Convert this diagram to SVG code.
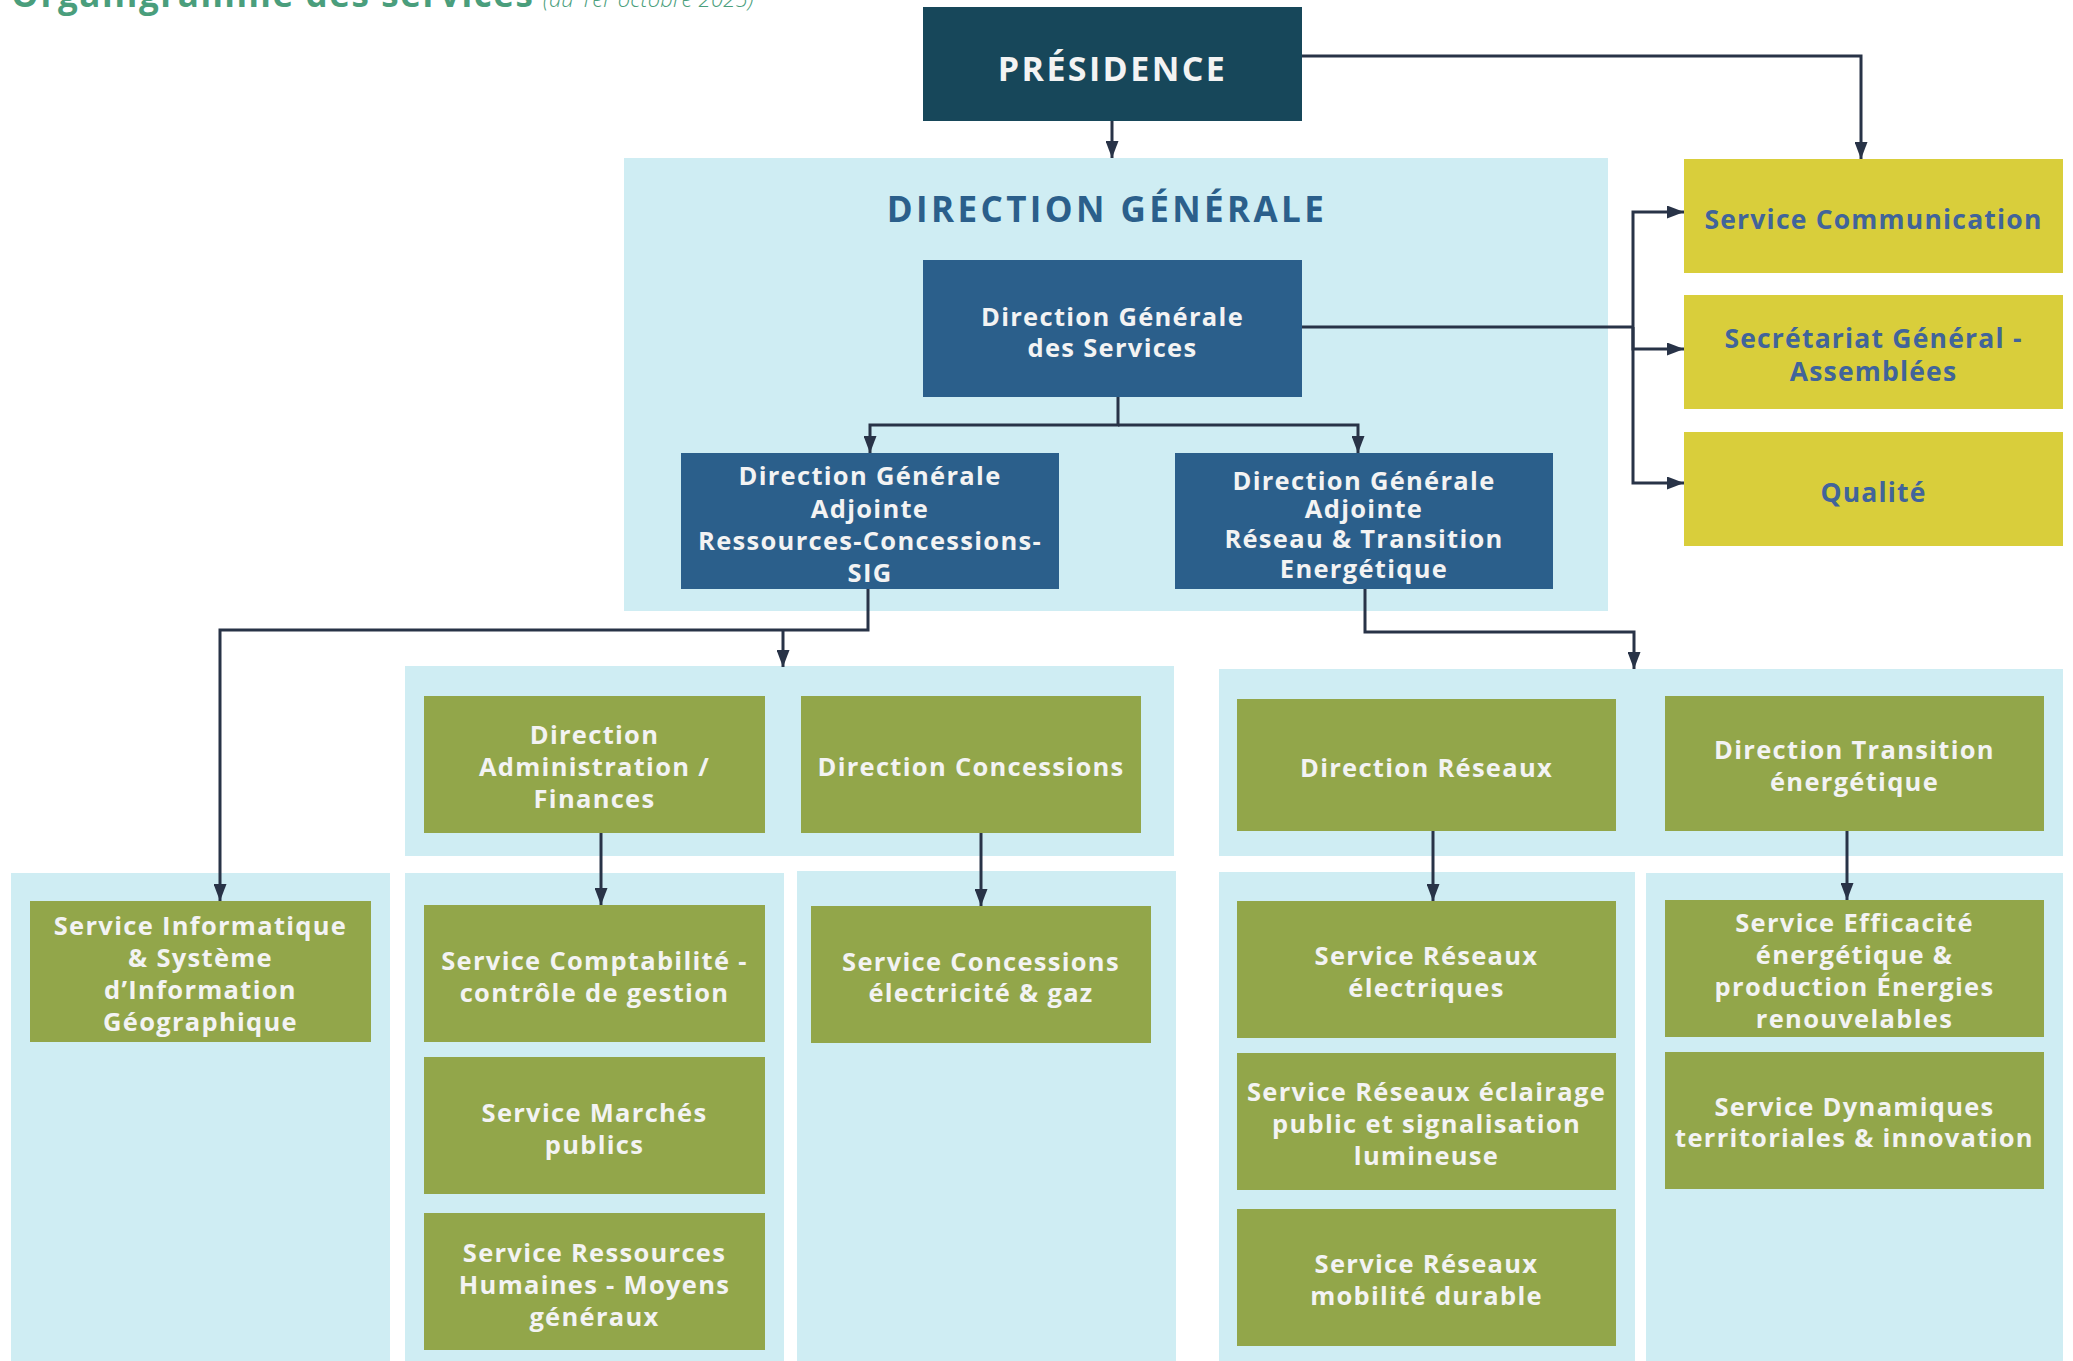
<svg xmlns="http://www.w3.org/2000/svg" width="2073" height="1361" viewBox="0 0 2073 1361">
<defs>
<style>
.cont{fill:#cfedf3}
.green{fill:#92a64a}
.blue{fill:#2b5f8b}
.dark{fill:#17475a}
.yellow{fill:#d9ce3b}
.t{font-family:"Open Sans","Liberation Sans",sans-serif;font-weight:700;text-anchor:middle;letter-spacing:1.3px}
.tw{fill:#f3f3f3;font-size:25.5px}
.ty{fill:#41649a;font-size:26.5px;letter-spacing:1.2px}
.conn{fill:none;stroke:#283347;stroke-width:3}
.arr{marker-end:url(#ah)}
</style>
<marker id="ah" markerUnits="userSpaceOnUse" markerWidth="18" markerHeight="13" refX="17" refY="6.5" orient="auto">
<path d="M0,0 L17,6.5 L0,13 z" fill="#283347"/>
</marker>
</defs>
<rect width="2073" height="1361" fill="#ffffff"/>

<g id="title">
<text x="11" y="7" font-family="'Open Sans','Liberation Sans',sans-serif" font-weight="700" font-size="35" letter-spacing="1.6" fill="#4a9e7c">Organigramme des services</text>
<text x="543" y="7" font-family="'Open Sans','Liberation Sans',sans-serif" font-weight="300" font-style="italic" font-size="22" letter-spacing="0.2" fill="#4a9e7c">(au 1er octobre 2025)</text>
</g>

<g id="containers">
<rect id="c-dg" class="cont" x="624" y="158" width="984" height="453"/>
<rect id="c-rcs" class="cont" x="405" y="666" width="769" height="190"/>
<rect id="c-rte" class="cont" x="1219" y="669" width="844" height="187"/>
<rect id="c-sig" class="cont" x="11" y="873" width="379" height="488"/>
<rect id="c-adm" class="cont" x="405" y="873" width="379" height="488"/>
<rect id="c-con" class="cont" x="797" y="871" width="379" height="490"/>
<rect id="c-res" class="cont" x="1219" y="872" width="416" height="489"/>
<rect id="c-tra" class="cont" x="1646" y="873" width="417" height="488"/>
<text class="t" x="1107" y="222" font-size="35" fill="#2b5f8b" style="letter-spacing:3.4px">DIRECTION GÉNÉRALE</text>
</g>

<g id="connectors">
<path class="conn arr" d="M1112,121 V158"/>
<path class="conn arr" d="M1302,56 H1861 V159"/>
<path class="conn" d="M1302,327 H1633"/>
<path class="conn arr" d="M1633,327 V212 H1684"/>
<path class="conn arr" d="M1633,327 V349 H1684"/>
<path class="conn arr" d="M1633,327 V483 H1684"/>
<path class="conn arr" d="M1118,397 V425 H870 V453"/>
<path class="conn arr" d="M1118,425 H1358 V453"/>
<path class="conn arr" d="M868,589 V630 H220 V901"/>
<path class="conn arr" d="M783,630 V667"/>
<path class="conn arr" d="M1365,589 V632 H1634 V669"/>
<path class="conn arr" d="M601,833 V905"/>
<path class="conn arr" d="M981,833 V906"/>
<path class="conn arr" d="M1433,831 V901"/>
<path class="conn arr" d="M1847,831 V900"/>
</g>

<g id="presidence">
<rect class="dark" x="923" y="7" width="379" height="114"/>
<text class="t" x="1112.5" y="81" font-size="34" fill="#f3f3f3" style="letter-spacing:2.4px">PRÉSIDENCE</text>
</g>

<g id="dgs">
<rect class="blue" x="923" y="260" width="379" height="137"/>
<text class="t tw" x="1112.5" y="326">Direction Générale</text>
<text class="t tw" x="1112.5" y="357">des Services</text>
</g>

<g id="dga-rcs">
<rect class="blue" x="681" y="453" width="378" height="136"/>
<text class="t tw" x="870" y="485">Direction Générale</text>
<text class="t tw" x="870" y="518">Adjointe</text>
<text class="t tw" x="870" y="550">Ressources-Concessions-</text>
<text class="t tw" x="870" y="582">SIG</text>
</g>

<g id="dga-rte">
<rect class="blue" x="1175" y="453" width="378" height="136"/>
<text class="t tw" x="1364" y="490">Direction Générale</text>
<text class="t tw" x="1364" y="518">Adjointe</text>
<text class="t tw" x="1364" y="548">Réseau &amp; Transition</text>
<text class="t tw" x="1364" y="578">Energétique</text>
</g>

<g id="communication">
<rect class="yellow" x="1684" y="159" width="379" height="114"/>
<text class="t ty" x="1873.5" y="229">Service Communication</text>
</g>

<g id="secretariat">
<rect class="yellow" x="1684" y="295" width="379" height="114"/>
<text class="t ty" x="1873.5" y="348">Secrétariat Général -</text>
<text class="t ty" x="1873.5" y="381">Assemblées</text>
</g>

<g id="qualite">
<rect class="yellow" x="1684" y="432" width="379" height="114"/>
<text class="t ty" x="1873.5" y="502">Qualité</text>
</g>

<g id="dir-admin">
<rect class="green" x="424" y="696" width="341" height="137"/>
<text class="t tw" x="594.5" y="744">Direction</text>
<text class="t tw" x="594.5" y="776">Administration /</text>
<text class="t tw" x="594.5" y="808">Finances</text>
</g>

<g id="dir-concessions">
<rect class="green" x="801" y="696" width="340" height="137"/>
<text class="t tw" x="971" y="776">Direction Concessions</text>
</g>

<g id="dir-reseaux">
<rect class="green" x="1237" y="699" width="379" height="132"/>
<text class="t tw" x="1426.5" y="777">Direction Réseaux</text>
</g>

<g id="dir-transition">
<rect class="green" x="1665" y="696" width="379" height="135"/>
<text class="t tw" x="1854.5" y="759">Direction Transition</text>
<text class="t tw" x="1854.5" y="791">énergétique</text>
</g>

<g id="svc-sig">
<rect class="green" x="30" y="901" width="341" height="141"/>
<text class="t tw" x="200.5" y="935">Service Informatique</text>
<text class="t tw" x="200.5" y="967">&amp; Système</text>
<text class="t tw" x="200.5" y="999">d’Information</text>
<text class="t tw" x="200.5" y="1031">Géographique</text>
</g>

<g id="svc-compta">
<rect class="green" x="424" y="905" width="341" height="137"/>
<text class="t tw" x="594.5" y="970">Service Comptabilité -</text>
<text class="t tw" x="594.5" y="1002">contrôle de gestion</text>
</g>

<g id="svc-marches">
<rect class="green" x="424" y="1057" width="341" height="137"/>
<text class="t tw" x="594.5" y="1122">Service Marchés</text>
<text class="t tw" x="594.5" y="1154">publics</text>
</g>

<g id="svc-rh">
<rect class="green" x="424" y="1213" width="341" height="137"/>
<text class="t tw" x="594.5" y="1262">Service Ressources</text>
<text class="t tw" x="594.5" y="1294">Humaines - Moyens</text>
<text class="t tw" x="594.5" y="1326">généraux</text>
</g>

<g id="svc-concessions">
<rect class="green" x="811" y="906" width="340" height="137"/>
<text class="t tw" x="981" y="971">Service Concessions</text>
<text class="t tw" x="981" y="1002">électricité &amp; gaz</text>
</g>

<g id="svc-res-elec">
<rect class="green" x="1237" y="901" width="379" height="137"/>
<text class="t tw" x="1426.5" y="965">Service Réseaux</text>
<text class="t tw" x="1426.5" y="997">électriques</text>
</g>

<g id="svc-res-eclairage">
<rect class="green" x="1237" y="1053" width="379" height="137"/>
<text class="t tw" x="1426.5" y="1101">Service Réseaux éclairage</text>
<text class="t tw" x="1426.5" y="1133">public et signalisation</text>
<text class="t tw" x="1426.5" y="1165">lumineuse</text>
</g>

<g id="svc-res-mobilite">
<rect class="green" x="1237" y="1209" width="379" height="137"/>
<text class="t tw" x="1426.5" y="1273">Service Réseaux</text>
<text class="t tw" x="1426.5" y="1305">mobilité durable</text>
</g>

<g id="svc-efficacite">
<rect class="green" x="1665" y="900" width="379" height="137"/>
<text class="t tw" x="1854.5" y="932">Service Efficacité</text>
<text class="t tw" x="1854.5" y="964">énergétique &amp;</text>
<text class="t tw" x="1854.5" y="996">production Énergies</text>
<text class="t tw" x="1854.5" y="1028">renouvelables</text>
</g>

<g id="svc-dynamiques">
<rect class="green" x="1665" y="1052" width="379" height="137"/>
<text class="t tw" x="1854.5" y="1116">Service Dynamiques</text>
<text class="t tw" x="1854.5" y="1147">territoriales &amp; innovation</text>
</g>
</svg>
